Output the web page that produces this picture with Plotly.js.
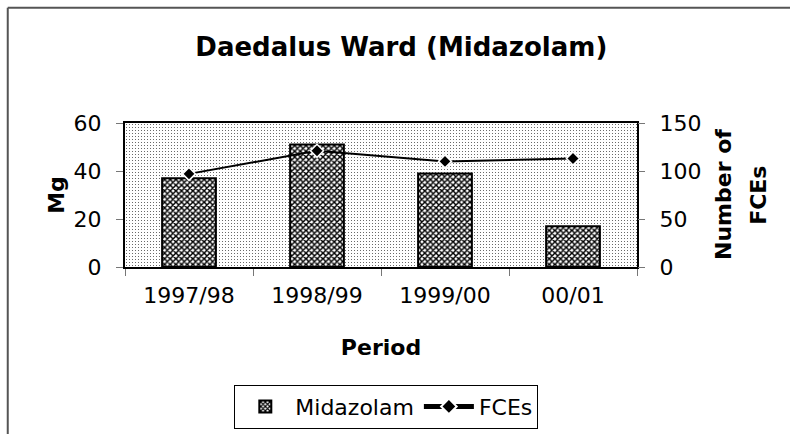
<!DOCTYPE html>
<html>
<head>
<meta charset="utf-8">
<script src="https://cdn.plot.ly/plotly-3.0.1.min.js"></script>
<style>
html,body{margin:0;padding:0;background:#fff;}
#chart{width:790px;height:434px;}
</style>
</head>
<body>
<div id="chart"></div>
<script>
const periods = ["1997/98", "1998/99", "1999/00", "00/01"];
const midazolamMg = [37, 51, 39, 17];
const fces = [97, 121, 110, 113];
const leftTicks = [0, 20, 40, 60];
const rightTicks = [0, 50, 100, 150];

const dotSvg = "<svg xmlns='http://www.w3.org/2000/svg' width='512' height='144'>" +
  "<defs><pattern id='p' width='3' height='3' patternUnits='userSpaceOnUse'>" +
  "<rect width='3' height='3' fill='#ffffff'/><rect x='1' y='1' width='1' height='1' fill='#6a6a6a'/></pattern></defs>" +
  "<rect width='512' height='144' fill='url(#p)'/></svg>";
const dotUri = "data:image/svg+xml;charset=utf-8," + encodeURIComponent(dotSvg);

const font = "'DejaVu Sans', Arial, sans-serif";

const traces = [
  {
    type: "bar",
    name: "Midazolam",
    x: periods,
    y: midazolamMg,
    width: 0.42,
    marker: {
      color: "#ffffff",
      line: {color: "#000000", width: 2},
      pattern: {shape: "x", fgcolor: "#000000", bgcolor: "#ffffff", size: 4, solidity: 0.6}
    },
    yaxis: "y"
  },
  {
    type: "scatter",
    mode: "lines+markers",
    name: "FCEs",
    x: periods,
    y: fces,
    line: {color: "#000000", width: 2},
    marker: {symbol: "diamond", size: 10, color: "#000000", line: {color: "#ffffff", width: 1.5}},
    yaxis: "y2"
  }
];

const layout = {
  width: 790,
  height: 434,
  margin: {l: 125, r: 153, t: 123, b: 167},
  paper_bgcolor: "#ffffff",
  plot_bgcolor: "#d6d6d6",
  font: {family: font, color: "#000000", size: 22},
  title: {text: "<b>Daedalus Ward (Midazolam)</b>", font: {family: font, size: 26, color: "#000"}, x: 0.508, xanchor: "center", y: 0.892, yanchor: "middle"},
  showlegend: true,
  legend: {
    orientation: "h",
    xref: "container", yref: "container",
    x: 0.489, xanchor: "center", y: 0.063, yanchor: "middle",
    bordercolor: "#000000", borderwidth: 1,
    font: {family: font, size: 22, color: "#000"},
    itemwidth: 50,
    itemsizing: "constant",
    traceorder: "normal"
  },
  xaxis: {
    type: "category",
    range: [-0.5, 3.5],
    showline: true, linecolor: "#000000", linewidth: 2, mirror: true,
    ticks: "outside", tickson: "boundaries", ticklen: 7, tickcolor: "#777", tickwidth: 1,
    ticklabelstandoff: 8,
    tickfont: {family: font, size: 22},
    showgrid: false,
    title: {text: "<b>Period</b>", font: {family: font, size: 22}, standoff: 32}
  },
  yaxis: {
    range: [0, 60],
    tickvals: leftTicks,
    showline: true, linecolor: "#000000", linewidth: 2, mirror: true,
    ticks: "outside", ticklen: 7, tickcolor: "#777", tickwidth: 1,
    ticklabelstandoff: 10,
    tickfont: {family: font, size: 22},
    showgrid: false, zeroline: false,
    title: {text: "<b>Mg</b>", font: {family: font, size: 22}, standoff: 3}
  },
  yaxis2: {
    range: [0, 150],
    tickvals: rightTicks,
    overlaying: "y",
    side: "right",
    showline: false,
    ticks: "outside", ticklen: 7, tickcolor: "#777", tickwidth: 1,
    ticklabelstandoff: 10,
    tickfont: {family: font, size: 22},
    showgrid: false, zeroline: false
  },
  annotations: [
    {text: "<b>Number of</b>", xref: "paper", yref: "paper", x: 1.168, y: 0.5, xanchor: "center", yanchor: "middle", textangle: -90, showarrow: false, font: {family: font, size: 22, color: "#000"}},
    {text: "<b>FCEs</b>", xref: "paper", yref: "paper", x: 1.236, y: 0.5, xanchor: "center", yanchor: "middle", textangle: -90, showarrow: false, font: {family: font, size: 22, color: "#000"}}
  ],
  images: [{
    source: dotUri,
    xref: "paper", yref: "paper",
    x: 0, y: 1, sizex: 1, sizey: 1,
    xanchor: "left", yanchor: "top",
    sizing: "stretch",
    layer: "below"
  }],
  shapes: [
    {type: "line", xref: "paper", yref: "paper", x0: -0.229, x1: 1.31, y0: 1.8, y1: 1.8, line: {color: "#555", width: 2}},
    {type: "line", xref: "paper", yref: "paper", x0: -0.229, x1: -0.229, y0: 1.8, y1: -1.2, line: {color: "#555", width: 2}}
  ]
};

Plotly.newPlot("chart", traces, layout, {displayModeBar: false, staticPlot: true});
</script>
</body>
</html>
